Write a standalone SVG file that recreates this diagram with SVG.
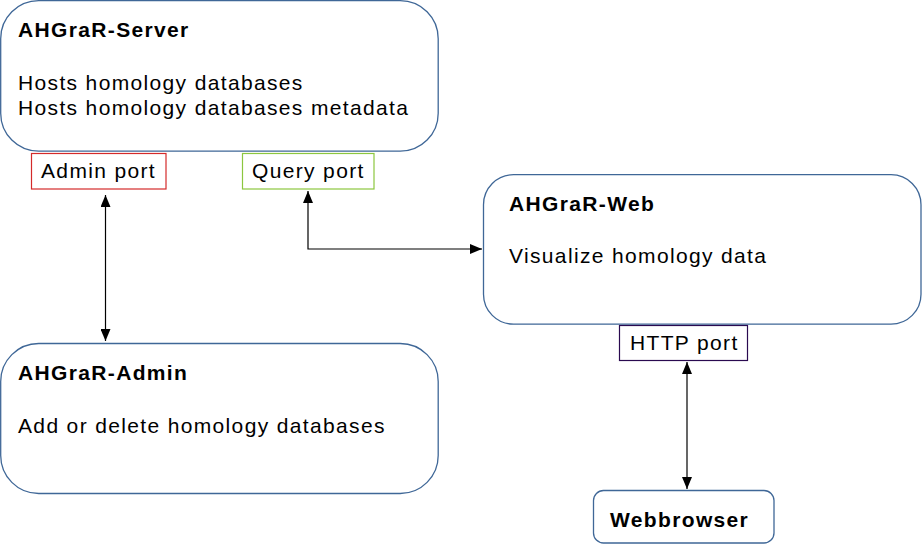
<svg xmlns="http://www.w3.org/2000/svg" width="922" height="544" viewBox="0 0 922 544">
<defs>
<style>
.box{fill:#fff;stroke:#3f6797;stroke-width:1.3}
.t{font-family:"Liberation Sans",Arial,sans-serif;font-size:21px;letter-spacing:1.35px;fill:#000}
.b{font-weight:bold}
.conn{fill:none;stroke:#000;stroke-width:1.2}
</style>
<marker id="arr" viewBox="0 0 12 10" refX="12" refY="5" markerWidth="12" markerHeight="10" markerUnits="userSpaceOnUse" orient="auto-start-reverse">
<path d="M0,0 L12,5 L0,10 Z" fill="#000"/>
</marker>
</defs>
<rect width="922" height="544" fill="#fff"/>
<g id="server">
<rect class="box" x="0.7" y="0.7" width="437.5" height="150.5" rx="38" ry="38"/>
<text class="t b" x="18" y="37">AHGraR-Server</text>
<text class="t" x="18" y="90">Hosts homology databases</text>
<text class="t" x="18" y="115">Hosts homology databases metadata</text>
</g>
<g id="admin-port">
<rect x="31.5" y="153.5" width="134.5" height="35.5" fill="#fff" stroke="#d42a2a" stroke-width="1.2"/>
<text class="t" x="41" y="178">Admin port</text>
</g>
<g id="query-port">
<rect x="242.5" y="153.5" width="131.5" height="35.5" fill="#fff" stroke="#8cc63f" stroke-width="1.2"/>
<text class="t" x="252" y="178">Query port</text>
</g>
<g id="web">
<rect class="box" x="483.5" y="174.7" width="437.5" height="149.5" rx="30" ry="30"/>
<text class="t b" x="509" y="211">AHGraR-Web</text>
<text class="t" x="509" y="263">Visualize homology data</text>
</g>
<g id="http-port">
<rect x="619.5" y="325.5" width="128" height="35" fill="#fff" stroke="#2a0a50" stroke-width="1.2"/>
<text class="t" x="630" y="350">HTTP port</text>
</g>
<g id="admin">
<rect class="box" x="0.7" y="343.5" width="437.5" height="150" rx="38" ry="38"/>
<text class="t b" x="18" y="380">AHGraR-Admin</text>
<text class="t" x="18" y="433">Add or delete homology databases</text>
</g>
<g id="webbrowser">
<rect class="box" x="593.5" y="490.5" width="180.5" height="52.5" rx="10" ry="10"/>
<text class="t b" x="610" y="527">Webbrowser</text>
</g>
<g id="connectors">
<path class="conn" d="M105.5,195 L105.5,341" marker-start="url(#arr)" marker-end="url(#arr)"/>
<path class="conn" d="M308,191 L308,249 L482,249" marker-start="url(#arr)" marker-end="url(#arr)"/>
<path class="conn" d="M687,362 L687,489" marker-start="url(#arr)" marker-end="url(#arr)"/>
</g>
</svg>
